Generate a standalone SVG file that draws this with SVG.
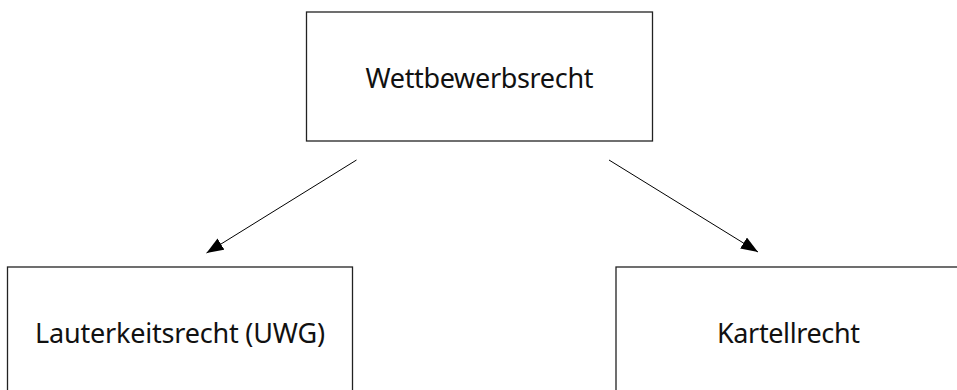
<svg xmlns="http://www.w3.org/2000/svg" width="957" height="390" viewBox="0 0 957 390">
<style>
.box{fill:#fff;stroke:#222;stroke-width:1.3}
.lbl{font-family:"Noto Sans","Open Sans","Liberation Sans",sans-serif;font-size:27px;fill:#111;text-anchor:middle}
.conn{stroke:#000;stroke-width:1;fill:none}
</style>
<defs>
<marker id="ah" markerUnits="userSpaceOnUse" markerWidth="20" markerHeight="16" refX="17" refY="6.5" orient="auto">
<path d="M0,0 L17,6.5 L0,13 Z" fill="#000"/>
</marker>
</defs>
<rect width="957" height="390" fill="#fff"/>
<g id="wettbewerbsrecht">
<rect class="box" x="306.5" y="12" width="346" height="129"/>
<text class="lbl" x="479.5" y="88" textLength="228">Wettbewerbsrecht</text>
</g>
<g id="lauterkeitsrecht">
<rect class="box" x="7.5" y="267" width="345" height="129"/>
<text class="lbl" x="180" y="343" textLength="290">Lauterkeitsrecht (UWG)</text>
</g>
<g id="kartellrecht">
<rect class="box" x="616" y="267" width="345" height="129"/>
<text class="lbl" x="788.5" y="343" textLength="143">Kartellrecht</text>
</g>
<g id="connectors">
<line class="conn" x1="356.5" y1="160" x2="206.5" y2="253" marker-end="url(#ah)"/>
<line class="conn" x1="609" y1="160" x2="758" y2="252" marker-end="url(#ah)"/>
</g>
</svg>
